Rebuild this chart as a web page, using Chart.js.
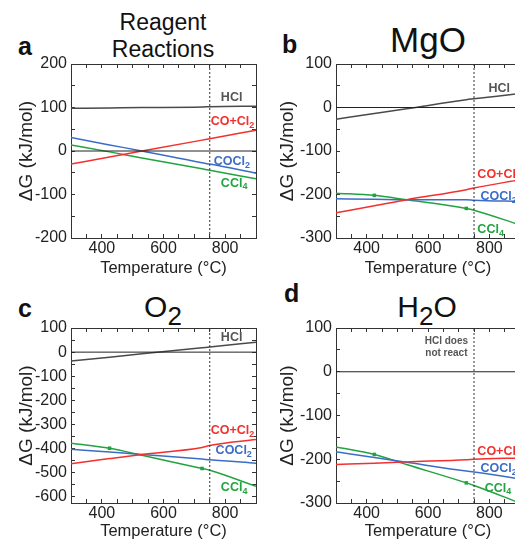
<!DOCTYPE html>
<html>
<head>
<meta charset="utf-8">
<script src="https://cdn.jsdelivr.net/npm/chart.js@4.4.0/dist/chart.umd.min.js"></script>
<style>
html, body { margin: 0; padding: 0; width: 515px; height: 539px; overflow: hidden; background: #fff; }
body { position: relative; font-family: "Liberation Sans", Arial, sans-serif; color: #111; }
canvas { position: absolute; }
.title { position: absolute; line-height: 1; white-space: nowrap; transform: translateX(-50%); }
.letter { position: absolute; line-height: 1; font-weight: bold; font-size: 25px; }
</style>
</head>
<body>
<div class="letter" style="left:18px; top:34px;">a</div>
<div class="letter" style="left:282px; top:32px;">b</div>
<div class="letter" style="left:18px; top:296px;">c</div>
<div class="letter" style="left:284px; top:281px;">d</div>

<div class="title" style="left:163px; top:11px; font-size:23px;">Reagent</div>
<div class="title" style="left:163px; top:38px; font-size:23px;">Reactions</div>
<div class="title" style="left:428px; top:22px; font-size:35px;">MgO</div>
<div class="title" style="left:163px; top:292px; font-size:30px;">O<span style="font-size:26px; position:relative; top:8px;">2</span></div>
<div class="title" style="left:427px; top:292px; font-size:30px;">H<span style="font-size:26px; position:relative; top:8px;">2</span>O</div>

<canvas id="chartA" style="left:0px; top:48px;" width="262" height="238"></canvas>
<canvas id="chartB" style="left:265px; top:48px;" width="261" height="238"></canvas>
<canvas id="chartC" style="left:0px; top:312px;" width="262" height="239"></canvas>
<canvas id="chartD" style="left:265px; top:312px;" width="261" height="239"></canvas>

<script>
const FONT = '"Liberation Sans", Arial, sans-serif';
const RED = '#f2302e';
const BLUE = '#3b6dc8';
const GREEN = '#22a33f';
const GRAY = '#4a4a4a';
const AXIS = '#333';

// temperatures (°C) at which the curves were read
const temps = [300, 425, 530, 725, 750, 900];
const xTickLabels = [400, 600, 800];
const markerTemps = [425, 725];

// a: reagent reactions
const hclA = [98, 99, 100, 101, 102, 103];
const coCl2A = [-30, -14, 0, 25, 28, 48];
const cocl2A = [31, 14, 0, -27, -30, -51];
const ccl4A = [14, -2, -16, -41, -44, -64];
const yTicksA = [-200, -100, 0, 100, 200];

// b: MgO
const hclB = [-27, -14, -3, 18, 20, 32];
const coCl2B = [-242, -226, -212, -189, -185, -166];
const cocl2B = [-210, -211, -212, -212, -213, -216];
const ccl4B = [-197, -202, -212, -232, -236, -270];
const ccl4MarkB = [-202, -232];
const yTicksB = [-300, -200, -100, 0, 100];

// c: O2
const hclC = [-37, -21, -7, 18, 21, 41];
const coCl2C = [-462, -441, -424, -395, -387, -362];
const cocl2C = [-402, -414, -424, -443, -446, -460];
const ccl4C = [-377, -398, -427, -482, -489, -556];
const ccl4MarkC = [-398, -482];
const yTicksC = [-600, -500, -400, -300, -200, -100, 0, 100];

// d: H2O (HCl does not react)
const coCl2D = [-212, -209, -206, -201, -200, -197];
const cocl2D = [-183, -196, -207, -227, -229, -245];
const ccl4D = [-172, -189, -212, -254, -260, -300];
const ccl4MarkD = [-189, -254];
const yTicksD = [-300, -200, -100, 0, 100];

function series(ys, color) {
    return {
        data: temps.map((t, i) => ({ x: t, y: ys[i] })),
        borderColor: color,
        borderWidth: 1.5,
        pointRadius: 0,
        cubicInterpolationMode: 'monotone',
        fill: false
    };
}

function markers(ys) {
    return {
        data: markerTemps.map((t, i) => ({ x: t, y: ys[i] })),
        showLine: false,
        pointStyle: 'rect',
        pointRadius: 2.5,
        backgroundColor: GREEN,
        borderColor: GREEN,
        borderWidth: 0
    };
}

function refLines(yMin, yMax) {
    return [
        { data: [{ x: 300, y: 0 }, { x: 900, y: 0 }], borderColor: '#222', borderWidth: 1, pointRadius: 0 },
        { data: [{ x: 750, y: yMin }, { x: 750, y: yMax }], borderColor: '#333', borderWidth: 1, borderDash: [2, 2], pointRadius: 0 }
    ];
}

// tick marks every 50 units (plus labelled values on the edges)
function stepsOf(min, max, labels) {
    const out = [];
    for (let v = Math.ceil(min / 50) * 50; v <= max; v += 50) {
        if ((v > min && v < max) || labels.includes(v)) out.push(v);
    }
    return out;
}

// coloured series names, "_" marks a subscript
const seriesLabels = {
    id: 'seriesLabels',
    afterDraw(chart, args, opts) {
        const ctx = chart.ctx;
        const xs = chart.scales.x, ys = chart.scales.y;
        ctx.save();
        ctx.textBaseline = 'middle';
        (opts.items || []).forEach(item => {
            const size = item.size || 12.5;
            item.text.split('\n').forEach((line, li) => {
                const [main, sub] = line.split('_');
                ctx.font = `bold ${size}px ${FONT}`;
                const w1 = ctx.measureText(main).width;
                ctx.font = `bold ${size * 0.72}px ${FONT}`;
                const w2 = sub ? ctx.measureText(sub).width : 0;
                let px = xs.getPixelForValue(item.x);
                if (item.align === 'center') px -= (w1 + w2) / 2;
                const py = ys.getPixelForValue(item.y) + li * size * 1.15;
                ctx.fillStyle = item.color;
                ctx.font = `bold ${size}px ${FONT}`;
                ctx.fillText(main, px, py);
                if (sub) {
                    ctx.font = `bold ${size * 0.72}px ${FONT}`;
                    ctx.fillText(sub, px + w1, py + size * 0.3);
                }
            });
        });
        ctx.restore();
    }
};

const inwardGrid = { display: true, drawOnChartArea: false, drawTicks: true, tickLength: -4, tickColor: AXIS, tickWidth: 1 };
const frameBorder = { display: true, color: AXIS, width: 1 };

function makeChart(id, p) {
    const datasets = refLines(p.yMin, p.yMax).concat(p.datasets);
    const xSteps = stepsOf(300, 900, xTickLabels);
    const ySteps = stepsOf(p.yMin, p.yMax, p.yTicks);
    const xBuild = s => { s.ticks = xSteps.map(v => ({ value: v })); };
    const yBuild = s => { s.ticks = ySteps.map(v => ({ value: v })); };
    return new Chart(document.getElementById(id), {
        type: 'line',
        data: { datasets },
        plugins: [seriesLabels],
        options: {
            responsive: false,
            animation: false,
            events: [],
            layout: { padding: { top: 0, right: 6, left: 0, bottom: 0 } },
            plugins: {
                legend: { display: false },
                tooltip: { enabled: false },
                seriesLabels: { items: p.labels }
            },
            scales: {
                x: {
                    type: 'linear', position: 'bottom', min: 300, max: 900,
                    afterBuildTicks: xBuild,
                    afterFit: s => { s.height = 48; },
                    grid: inwardGrid,
                    border: frameBorder,
                    ticks: {
                        font: { size: 16, family: FONT, lineHeight: 1 }, color: '#222', padding: 7,
                        maxRotation: 0, autoSkip: false,
                        callback: v => xTickLabels.includes(v) ? String(v) : ''
                    },
                    title: {
                        display: true, text: 'Temperature (°C)', color: '#222',
                        font: { size: 16.5, family: FONT },
                        padding: { top: 0, bottom: p.xTitlePad }
                    }
                },
                x2: {
                    type: 'linear', position: 'top', min: 300, max: 900,
                    afterBuildTicks: xBuild,
                    afterFit: s => { s.height = 0; },
                    grid: inwardGrid,
                    border: frameBorder,
                    ticks: { display: false }
                },
                y: {
                    type: 'linear', position: 'left', min: p.yMin, max: p.yMax,
                    afterBuildTicks: yBuild,
                    afterFit: s => { s.width = 71; },
                    grid: inwardGrid,
                    border: frameBorder,
                    ticks: {
                        font: { size: 16, family: FONT, lineHeight: 1 }, color: '#222', padding: 8, autoSkip: false,
                        callback: v => p.yTicks.includes(v) ? String(v) : ''
                    },
                    title: {
                        display: true, text: 'ΔG (kJ/mol)', color: '#222',
                        font: { size: 19, family: FONT },
                        padding: { top: p.yTitlePad, bottom: 0 }
                    }
                },
                y2: {
                    type: 'linear', position: 'right', min: p.yMin, max: p.yMax,
                    afterBuildTicks: yBuild,
                    afterFit: s => { s.width = 0; },
                    grid: inwardGrid,
                    border: frameBorder,
                    ticks: { display: false }
                }
            }
        }
    });
}

makeChart('chartA', {
    yMin: -200, yMax: 200, yTicks: yTicksA, xTitlePad: 8, yTitlePad: 15,
    datasets: [series(hclA, GRAY), series(coCl2A, RED), series(cocl2A, BLUE), series(ccl4A, GREEN)],
    labels: [
        { text: 'HCl', x: 786, y: 122, color: '#555' },
        { text: 'CO+Cl_2', x: 753, y: 67, color: RED },
        { text: 'COCl_2', x: 763, y: -25, color: BLUE },
        { text: 'CCl_4', x: 786, y: -74, color: GREEN }
    ]
});

makeChart('chartB', {
    yMin: -300, yMax: 100, yTicks: yTicksB, xTitlePad: 8, yTitlePad: 11,
    datasets: [series(hclB, GRAY), series(coCl2B, RED), series(cocl2B, BLUE), series(ccl4B, GREEN), markers(ccl4MarkB)],
    labels: [
        { text: 'HCl', x: 797, y: 43, color: '#555' },
        { text: 'CO+Cl_2', x: 761, y: -154, color: RED },
        { text: 'COCl_2', x: 771, y: -205, color: BLUE },
        { text: 'CCl_4', x: 761, y: -281, color: GREEN }
    ]
});

makeChart('chartC', {
    yMin: -625, yMax: 100, yTicks: yTicksC, xTitlePad: 10, yTitlePad: 15,
    datasets: [series(hclC, GRAY), series(coCl2C, RED), series(cocl2C, BLUE), series(ccl4C, GREEN), markers(ccl4MarkC)],
    labels: [
        { text: 'HCl', x: 786, y: 61, color: '#555' },
        { text: 'CO+Cl_2', x: 753, y: -326, color: RED },
        { text: 'COCl_2', x: 769, y: -409, color: BLUE },
        { text: 'CCl_4', x: 786, y: -560, color: GREEN }
    ]
});

makeChart('chartD', {
    yMin: -300, yMax: 100, yTicks: yTicksD, xTitlePad: 10, yTitlePad: 11,
    datasets: [series(coCl2D, RED), series(cocl2D, BLUE), series(ccl4D, GREEN), markers(ccl4MarkD)],
    labels: [
        { text: 'HCl does\nnot react', x: 660, y: 69, color: '#555', size: 10, align: 'center' },
        { text: 'CO+Cl_2', x: 761, y: -183, color: RED },
        { text: 'COCl_2', x: 771, y: -222, color: BLUE },
        { text: 'CCl_4', x: 785, y: -266, color: GREEN }
    ]
});
</script>
</body>
</html>
